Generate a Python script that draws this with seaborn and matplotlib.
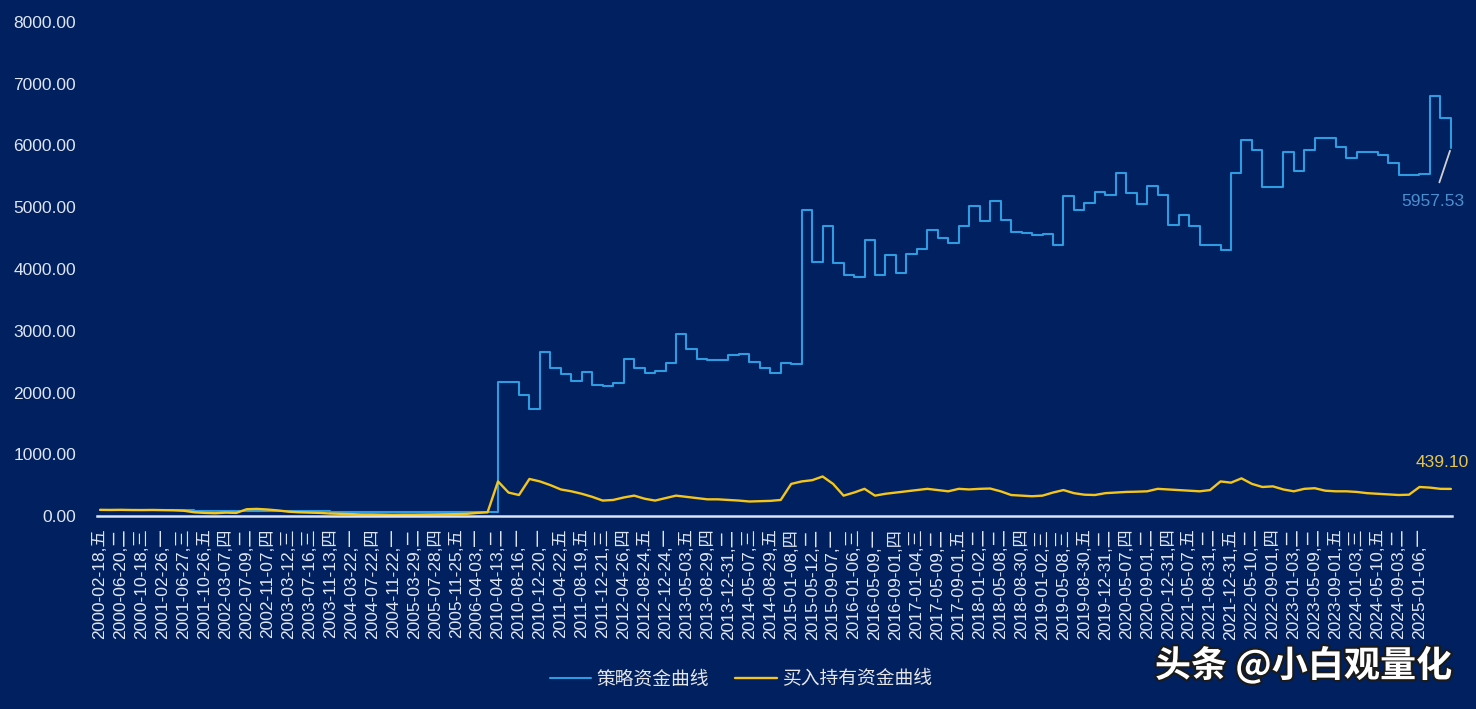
import matplotlib
matplotlib.use('Agg')
import matplotlib.pyplot as plt
import matplotlib.patheffects as pe
import seaborn as sns
import numpy as np

# x tick labels (one every two data slots)
tick_labels = [
    '2000-02-18,五', '2000-06-20,二', '2000-10-18,三', '2001-02-26,一', '2001-06-27,三',
    '2001-10-26,五', '2002-03-07,四', '2002-07-09,二', '2002-11-07,四', '2003-03-12,三',
    '2003-07-16,三', '2003-11-13,四', '2004-03-22,一', '2004-07-22,四', '2004-11-22,一',
    '2005-03-29,二', '2005-07-28,四', '2005-11-25,五', '2006-04-03,一', '2010-04-13,二',
    '2010-08-16,一', '2010-12-20,一', '2011-04-22,五', '2011-08-19,五', '2011-12-21,三',
    '2012-04-26,四', '2012-08-24,五', '2012-12-24,一', '2013-05-03,五', '2013-08-29,四',
    '2013-12-31,二', '2014-05-07,三', '2014-08-29,五', '2015-01-08,四', '2015-05-12,二',
    '2015-09-07,一', '2016-01-06,三', '2016-05-09,一', '2016-09-01,四', '2017-01-04,三',
    '2017-05-09,二', '2017-09-01,五', '2018-01-02,二', '2018-05-08,二', '2018-08-30,四',
    '2019-01-02,三', '2019-05-08,三', '2019-08-30,五', '2019-12-31,二', '2020-05-07,四',
    '2020-09-01,二', '2020-12-31,四', '2021-05-07,五', '2021-08-31,二', '2021-12-31,五',
    '2022-05-10,二', '2022-09-01,四', '2023-01-03,二', '2023-05-09,二', '2023-09-01,五',
    '2024-01-03,三', '2024-05-10,五', '2024-09-03,二', '2025-01-06,一',
]

# strategy equity curve
strategy = [
    100, 100, 99, 99, 98, 98, 97, 96, 90,
    80, 78, 78, 77, 77, 76, 76, 75, 75, 75,
    74, 74, 74, 73, 73, 73, 72, 72, 71,
    71, 71, 70, 70, 70, 70, 69, 69, 69,
    69, 2165, 2165, 1960, 1740, 2650, 2400, 2294, 2180, 2337,
    2120, 2110, 2150, 2537, 2400, 2321, 2350, 2483, 2950, 2700,
    2540, 2526, 2526, 2600, 2620, 2499, 2400, 2321, 2483, 2456,
    4950, 4118, 4700, 4100, 3900, 3875, 4470, 3900, 4227, 3930,
    4250, 4330, 4632, 4500, 4416, 4700, 5020, 4783, 5100,
    4800, 4604, 4580, 4550, 4560, 4389, 5182, 4955, 5074, 5250,
    5200, 5550, 5225, 5050, 5350, 5200, 4712, 4874, 4700, 4389,
    4389, 4308, 5550, 6089, 5927, 5333, 5333, 5900, 5592, 5927,
    6116, 6116, 5980, 5800, 5900, 5900, 5850, 5712, 5522, 5522,
    5540, 6802, 6450, 5957.53,
]

# buy-and-hold equity curve
hold = [
    100, 98, 100, 97, 96, 98, 95, 92, 85,
    60, 50, 45, 55, 50, 110, 115, 105, 90, 70,
    60, 55, 50, 40, 35, 30, 25, 25, 22,
    20, 22, 22, 24, 26, 28, 30, 35, 50,
    60, 560, 380, 340, 600, 560, 500, 430, 400, 360,
    310, 250, 260, 300, 330, 280, 250, 290, 330, 310,
    290, 270, 270, 260, 250, 235, 240, 245, 260, 520,
    560, 580, 640, 520, 330, 380, 440, 330, 360, 380,
    400, 420, 440, 420, 400, 440, 430, 440, 445,
    400, 340, 330, 320, 330, 380, 420, 370, 345, 340,
    370, 380, 390, 394, 400, 440, 430, 420, 410, 400,
    420, 560, 540, 610, 520, 470, 480, 430, 400, 440,
    450, 410, 400, 400, 390, 370, 360, 350, 340, 345,
    470, 460, 440, 439.10,
]

bg = '#002060'
txt = '#dfe6f2'

sns.set_style('dark')
plt.rcParams['font.family'] = ['Liberation Sans', 'Noto Sans CJK SC']

idx = np.arange(len(strategy))

fig = plt.figure(figsize=(14.76, 7.09), dpi=100, facecolor=bg)
ax = fig.add_axes([0.0657, 0.2722, 0.918, 0.6968])
ax.set_facecolor(bg)
ax.grid(False)

sns.lineplot(x=idx, y=strategy, ax=ax, color='#2f9be0', lw=1.5,
             drawstyle='steps-post', label='策略资金曲线')
sns.lineplot(x=idx, y=hold, ax=ax, color='#f5c518', lw=1.7,
             label='买入持有资金曲线')

ax.set_xlim(-0.3, len(strategy) - 0.9)
ax.set_ylim(0, 8000)
ax.set_yticks(range(0, 8001, 1000))
ax.yaxis.set_major_formatter(matplotlib.ticker.StrMethodFormatter('{x:.2f}'))
ax.set_xticks(range(0, 2 * len(tick_labels), 2))
ax.set_xticklabels(tick_labels, rotation=90)
ax.tick_params(axis='x', length=0, pad=9, labelsize=12.5, labelcolor=txt)
ax.tick_params(axis='y', length=0, pad=15, labelsize=12.5, labelcolor=txt)
ax.set_xlabel('')
ax.set_ylabel('')

for side in ['top', 'left', 'right']:
    ax.spines[side].set_visible(False)
ax.spines['bottom'].set_color('#dbe5f5')
ax.spines['bottom'].set_linewidth(1.8)

# end value labels
ax.annotate(f'{strategy[-1]:.2f}', xy=(idx[-1], strategy[-1]), xytext=(127.3, 5100),
            ha='center', va='center', fontsize=12.5, color='#4a8fd0',
            arrowprops=dict(arrowstyle='-', color='#d0d0d0', lw=1.3,
                            shrinkA=6, shrinkB=2))
ax.text(128.2, 860, f'{hold[-1]:.2f}', ha='center', va='center',
        fontsize=12.5, color='#e8c547')

ax.legend(loc='center', bbox_to_anchor=(0.502, 0.042), bbox_transform=fig.transFigure,
          ncol=2, frameon=False, fontsize=13.5, handlelength=2.2,
          handletextpad=0.3, columnspacing=1.4, labelcolor='#e6e6e6')

fig.text(0.984, 0.061, '头条 @小白观量化', ha='right', va='center', fontsize=26,
         color='white', fontweight='bold', family=['Noto Sans CJK SC'],
         path_effects=[pe.withStroke(linewidth=3, foreground='#1a1a1a')])

fig.savefig('out.png', dpi=100, facecolor=bg)
